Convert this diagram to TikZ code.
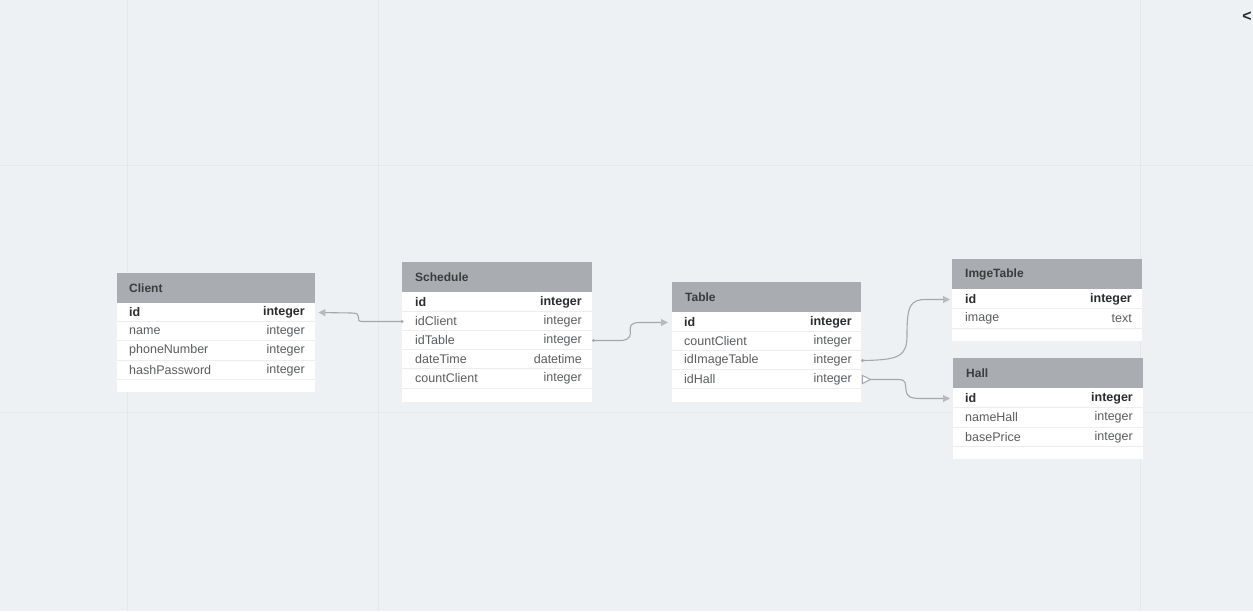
\documentclass[tikz,border=0pt]{standalone}
\usepackage{fontspec}
\setmainfont{Liberation Sans}
\usetikzlibrary{arrows.meta}
\definecolor{bgc}{HTML}{EEF1F3}
\definecolor{gridc}{HTML}{E5E8EB}
\definecolor{hdrc}{HTML}{A9ACB0}
\definecolor{sepc}{HTML}{ECEDEE}
\definecolor{titlec}{HTML}{3A3C3E}
\definecolor{txtc}{HTML}{5A5C5E}
\definecolor{idc}{HTML}{2A2C2E}
\definecolor{connc}{HTML}{A4A8AC}
\definecolor{tipc}{HTML}{B8BBBE}
\tikzset{
  hdr/.style={fill=hdrc, draw=none, anchor=north west, inner sep=0pt, minimum height=31pt},
  tbody/.style={fill=white, draw=none, anchor=north west, inner sep=0pt},
  ttitle/.style={anchor=west, inner sep=0pt, text=titlec, font=\fontsize{12}{14}\selectfont\bfseries},
  fname/.style={anchor=west, inner sep=0pt, text=txtc, font=\fontsize{12.5}{14}\selectfont},
  ftype/.style={anchor=east, inner sep=0pt, text=txtc, font=\fontsize{12.5}{14}\selectfont},
  fidname/.style={anchor=west, inner sep=0pt, text=idc, font=\fontsize{12.5}{14}\selectfont\bfseries},
  fidtype/.style={anchor=east, inner sep=0pt, text=idc, font=\fontsize{12.5}{14}\selectfont\bfseries},
  sepline/.style={draw=sepc, line width=0.8pt},
  conn/.style={draw=connc, line width=1.1pt, -{Triangle[length=7pt,width=7pt,fill=tipc,color=tipc]}},
  gridline/.style={draw=gridc, line width=0.8pt},
}
\begin{document}
\begin{tikzpicture}[x=1pt,y=-1pt]
\fill[bgc] (0,0) rectangle (1253,611);
\useasboundingbox (0,0) rectangle (1253,611);
% faint grid
\foreach \gx in {127,378,1140} {\draw[gridline] (\gx,0) -- (\gx,611);}
\foreach \gy in {165,412} {\draw[gridline] (0,\gy) -- (1253,\gy);}
\node[anchor=east, inner sep=0pt, text=idc, font=\fontsize{16}{18}\selectfont\bfseries] (back) at (1252,17) {<};

% ---------- Client ----------
\node[hdr, minimum width=198pt] (client-h) at (117,273) {};
\node[tbody, minimum width=198pt, minimum height=89pt] (client-b) at (117,303) {};
\node[ttitle] (client-t) at (129,288) {Client};
\foreach \yy in {321.5,340.5,360,379.5} {\draw[sepline] (117,\yy) -- (315,\yy);}
\node[fidname] (client-id) at (129,312.5) {id};
\node[fidtype] (client-idt) at (305,312.5) {integer};
\node[fname] (client-name) at (129,331.5) {name};
\node[ftype] (client-namet) at (305,331.5) {integer};
\node[fname] (client-phone) at (129,350.5) {phoneNumber};
\node[ftype] (client-phonet) at (305,350.5) {integer};
\node[fname] (client-hash) at (129,370) {hashPassword};
\node[ftype] (client-hasht) at (305,370) {integer};

% ---------- Schedule ----------
\node[hdr, minimum width=190pt] (sched-h) at (402,262) {};
\node[tbody, minimum width=190pt, minimum height=110pt] (sched-b) at (402,292) {};
\node[ttitle] (sched-t) at (415,277) {Schedule};
\foreach \yy in {311.5,330.5,349.5,368.5,388} {\draw[sepline] (402,\yy) -- (592,\yy);}
\node[fidname] (sched-id) at (415,302.5) {id};
\node[fidtype] (sched-idt) at (582,302.5) {integer};
\node[fname] (sched-idClient) at (415,321.5) {idClient};
\node[ftype] (sched-idClientt) at (582,321.5) {integer};
\node[fname] (sched-idTable) at (415,340.5) {idTable};
\node[ftype] (sched-idTablet) at (582,340.5) {integer};
\node[fname] (sched-dt) at (415,359.5) {dateTime};
\node[ftype] (sched-dtt) at (582,359.5) {datetime};
\node[fname] (sched-cc) at (415,378.5) {countClient};
\node[ftype] (sched-cct) at (582,378.5) {integer};

% ---------- Table ----------
\node[hdr, minimum width=189pt] (table-h) at (672,282) {};
\node[tbody, minimum width=189pt, minimum height=90pt] (table-b) at (672,312) {};
\node[ttitle] (table-t) at (685,297) {Table};
\foreach \yy in {331.5,350.5,369.5,388.5} {\draw[sepline] (672,\yy) -- (861,\yy);}
\node[fidname] (table-id) at (684,322.5) {id};
\node[fidtype] (table-idt) at (852,322.5) {integer};
\node[fname] (table-cc) at (684,341.5) {countClient};
\node[ftype] (table-cct) at (852,341.5) {integer};
\node[fname] (table-img) at (684,360.5) {idImageTable};
\node[ftype] (table-imgt) at (852,360.5) {integer};
\node[fname] (table-hall) at (684,379.5) {idHall};
\node[ftype] (table-hallt) at (852,379.5) {integer};

% ---------- ImgeTable ----------
\node[hdr, minimum width=190pt] (img-h) at (952,259) {};
\node[tbody, minimum width=190pt, minimum height=52pt] (img-b) at (952,289) {};
\node[ttitle] (img-t) at (965,274) {ImgeTable};
\foreach \yy in {308.5,328} {\draw[sepline] (952,\yy) -- (1142,\yy);}
\node[fidname] (img-id) at (965,299.5) {id};
\node[fidtype] (img-idt) at (1132,299.5) {integer};
\node[fname] (img-image) at (965,318.5) {image};
\node[ftype] (img-imaget) at (1132,318.5) {text};

% ---------- Hall ----------
\node[hdr, minimum width=190pt] (hall-h) at (953,358) {};
\node[tbody, minimum width=190pt, minimum height=71pt] (hall-b) at (953,388) {};
\node[ttitle] (hall-t) at (966,373) {Hall};
\foreach \yy in {407.5,427,446} {\draw[sepline] (953,\yy) -- (1143,\yy);}
\node[fidname] (hall-id) at (965,398.5) {id};
\node[fidtype] (hall-idt) at (1133,398.5) {integer};
\node[fname] (hall-name) at (965,417.5) {nameHall};
\node[ftype] (hall-namet) at (1133,417.5) {integer};
\node[fname] (hall-bp) at (965,437) {basePrice};
\node[ftype] (hall-bpt) at (1133,437) {integer};

% ---------- connector end points ----------
\coordinate (c1s) at (sched-b.west |- sched-idClient);
\coordinate (c1e) at ([xshift=3pt]client-b.east |- client-id);
\coordinate (c2s) at ([xshift=1pt]sched-b.east |- sched-idTable);
\coordinate (c2e) at ([xshift=-4pt]table-b.west |- table-id);
\coordinate (c3s) at ([xshift=1pt]table-b.east |- table-img);
\coordinate (c3e) at ([xshift=-2pt]img-b.west |- img-id);
\coordinate (c4s) at ([xshift=9pt]table-b.east |- table-hall);
\coordinate (c4e) at ([xshift=-3pt]hall-b.west |- hall-id);

% ---------- connectors ----------
\draw[conn] (c1s) -- (362,321.5) .. controls (354,321.5) and (364,313) .. (352,313) -- (c1e);
\fill[connc] (c1s) circle (1.6pt);
\draw[conn] (c2s) -- (622,340.5) .. controls (640,338) and (620,322.5) .. (640,322.5) -- (c2e);
\fill[connc] (c2s) circle (1.6pt);
\draw[conn] (c3s) .. controls (900,360) and (907,356) .. (907,335)
   .. controls (907,306) and (910,299.5) .. (926,299.5) -- (c3e);
\fill[connc] (c3s) circle (1.6pt);
\draw[conn] (c4s) -- (898,379.5) .. controls (907,379.5) and (905,384) .. (906,390)
   .. controls (907,397) and (910,398.5) .. (922,398.5) -- (c4e);
\draw[draw=connc, line width=1pt, fill=white] ([xshift=-8pt,yshift=-4pt]c4s) -- (c4s) -- ([xshift=-8pt,yshift=4pt]c4s) -- cycle;
\end{tikzpicture}
\end{document}
